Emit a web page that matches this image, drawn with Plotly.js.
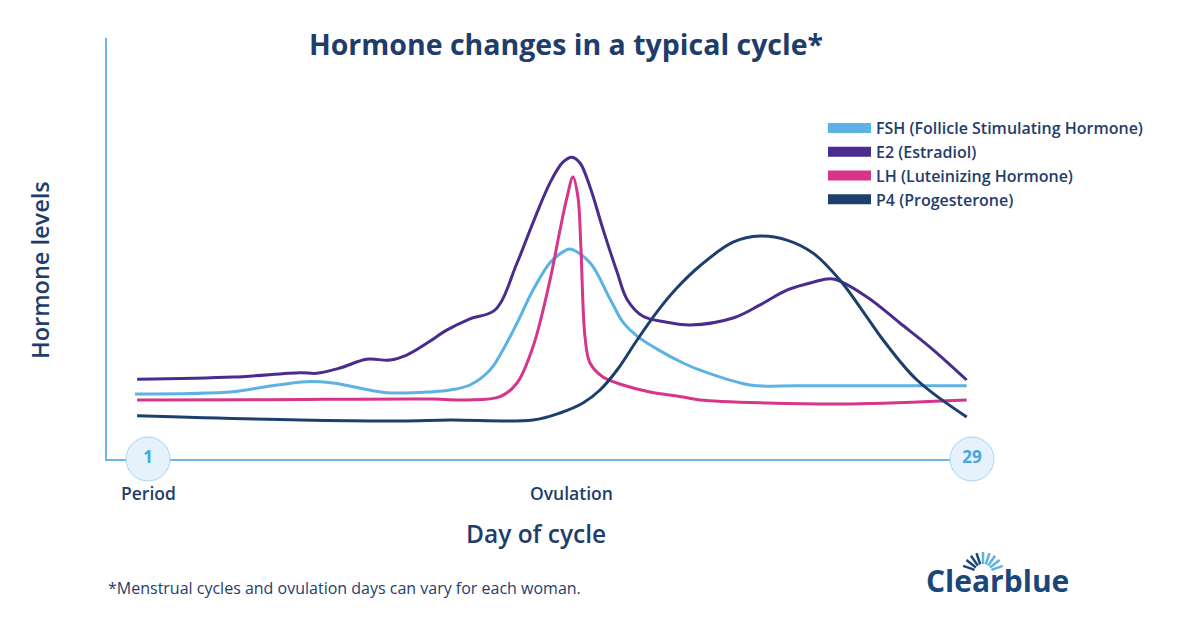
<!DOCTYPE html>
<html>
<head>
<meta charset="utf-8">
<script src="https://cdn.plot.ly/plotly-3.0.1.min.js"></script>
<style>html,body{margin:0;padding:0;background:#fff;}#chart{width:1200px;height:635px;}</style>
</head>
<body>
<div id="chart"></div>
<script>
// ---- data (day of cycle vs relative hormone level) ----
const seriesNames = ["FSH (Follicle Stimulating Hormone)", "E2 (Estradiol)", "LH (Luteinizing Hormone)", "P4 (Progesterone)"];

const fshDays = [0.56, 3.89, 5.0, 6.39, 7.29, 9.11, 10.68, 11.26, 11.94, 12.62, 13.06, 13.54, 14.08, 14.66, 15.1, 15.34, 16.02, 16.7, 17.14, 17.62, 18.3, 19.18, 19.76, 21.46, 23.16, 28.82];
const fshVals = [15.44, 15.99, 17.17, 18.36, 18.05, 15.75, 15.99, 16.39, 17.58, 21.14, 25.9, 32.3, 40.1, 46.6, 49.2, 49.9, 46.6, 38.0, 32.5, 29.2, 26.1, 22.8, 21.1, 17.58, 17.4, 17.41];

const e2Days = [0.63, 3.89, 6.17, 6.73, 7.52, 8.43, 9.22, 9.79, 10.47, 11.15, 11.94, 12.79, 13.54, 14.08, 14.66, 15.1, 15.41, 15.68, 16.02, 16.46, 16.94, 17.28, 17.82, 18.63, 19.42, 20.88, 21.8, 22.71, 23.6, 24.28, 25.43, 26.55, 27.67, 28.82];
const e2Vals = [18.93, 19.45, 20.5, 20.36, 21.6, 23.68, 23.52, 24.7, 27.48, 30.6, 33.3, 35.39, 46.56, 56.1, 65.6, 70.5, 71.7, 70.3, 64.6, 54.6, 44.4, 37.9, 33.9, 32.5, 31.83, 33.49, 36.6, 40.1, 42.0, 42.76, 38.5, 32.3, 26.0, 18.76];

const lhDays = [0.63, 5.0, 10.68, 11.83, 12.96, 13.54, 14.08, 14.66, 15.0, 15.24, 15.44, 15.61, 15.71, 15.85, 16.02, 16.46, 17.14, 18.06, 19.18, 19.76, 22.02, 24.86, 28.82];
const lhVals = [14.01, 14.1, 14.25, 14.01, 14.8, 18.05, 26.6, 42.5, 54.4, 62.2, 67.0, 62.2, 50.4, 29.0, 22.8, 19.48, 17.58, 15.91, 14.73, 14.01, 13.3, 13.06, 14.01];

const p4Days = [0.63, 6.17, 9.56, 11.26, 14.08, 15.0, 15.78, 16.36, 16.94, 17.62, 18.29, 18.97, 19.76, 20.88, 21.8, 22.71, 23.6, 24.51, 25.43, 25.98, 27.13, 28.82];
const p4Vals = [10.29, 9.26, 9.03, 9.26, 9.26, 10.93, 13.3, 16.39, 21.14, 28.27, 34.9, 40.6, 45.9, 51.5, 52.97, 52.0, 48.9, 42.5, 33.7, 28.27, 18.76, 9.98];

const dayMarkers = [1, 29];
const dayMarkerLabels = ["1", "29"];
const phaseDays = [1, 15.4];
const phaseLabels = ["Period", "Ovulation"];

// ---- styling ----
const colors = ["#5bb2e3", "#4a2b8e", "#d6358b", "#1c3f6d"];
const navy = "#1f3d6b";
const axisBlue = "#6db7e6";
const FONT = "Open Sans, sans-serif";

const PL = 107, PR = 972, PT = 38, PB = 459;
const px = p => (p - PL) / (PR - PL);
const py = p => (PB - p) / (PB - PT);

const dataSets = [[fshDays, fshVals], [e2Days, e2Vals], [lhDays, lhVals], [p4Days, p4Vals]];
const traces = [];
dataSets.forEach((d, i) => {
  traces.push({
    x: d[0], y: d[1], type: "scatter", mode: "lines",
    name: seriesNames[i], legendgroup: "g" + i, showlegend: false,
    line: {color: colors[i], width: 3, shape: "spline", smoothing: 1},
    hoverinfo: "x+y"
  });
});
// legend swatches (thick)
seriesNames.forEach((n, i) => {
  traces.push({
    x: [null], y: [null], type: "scatter", mode: "lines",
    name: n, legendgroup: "g" + i, showlegend: true,
    line: {color: colors[i], width: 10}
  });
});
// day circles
traces.push({
  x: dayMarkers, y: [0, 0], type: "scatter", mode: "markers+text",
  text: dayMarkerLabels, textposition: "middle center",
  textfont: {family: FONT, size: 17, color: "#4ba4dc", weight: 700},
  marker: {size: 44, color: "#e5f2fc", line: {color: "#a9d4f1", width: 1}},
  cliponaxis: false, showlegend: false, hoverinfo: "skip"
});

const annotations = [
  {text: "Hormone levels", xref: "paper", yref: "paper", x: px(40), y: py(270), xanchor: "center", yanchor: "middle",
   textangle: -90, showarrow: false, font: {family: FONT, size: 23.5, color: navy, weight: 600}},
  {text: "Day of cycle", xref: "paper", yref: "paper", x: px(536), y: py(533), xanchor: "center", yanchor: "middle",
   showarrow: false, font: {family: FONT, size: 24.5, color: navy, weight: 600}},
  {text: "*Menstrual cycles and ovulation days can vary for each woman.", xref: "paper", yref: "paper",
   x: px(106), y: py(588), xanchor: "left", yanchor: "middle", showarrow: false,
   font: {family: FONT, size: 16, color: navy, weight: 500}},
  {text: "Clearblue", xref: "paper", yref: "paper", x: px(997), y: py(580), xanchor: "center", yanchor: "middle",
   showarrow: false, font: {family: FONT, size: 30, color: "#1b4679", weight: 700}}
];
phaseDays.forEach((d, i) => {
  annotations.push({text: phaseLabels[i], xref: "x", yref: "paper", x: d, y: py(493), xanchor: "center", yanchor: "middle",
    showarrow: false, font: {family: FONT, size: 17.5, color: navy, weight: 600}});
});

// logo rays
const shapes = [];
const rayAngles = [160, 142, 125, 108, 90, 72, 55, 38, 20];
rayAngles.forEach((a, k) => {
  const r = a * Math.PI / 180;
  const cx = 983, cy = 573;
  const r0 = 9, r1 = 21;
  shapes.push({type: "line", xref: "paper", yref: "paper",
    x0: px(cx + r0 * Math.cos(r)), y0: py(cy - r0 * Math.sin(r)),
    x1: px(cx + r1 * Math.cos(r)), y1: py(cy - r1 * Math.sin(r)),
    line: {color: k < 4 ? "#1b4679" : "#5bb2e3", width: 2.5}});
});

const layout = {
  width: 1200, height: 635,
  margin: {l: PL, r: 1200 - PR, t: PT, b: 635 - PB, pad: 0},
  paper_bgcolor: "#ffffff", plot_bgcolor: "#ffffff",
  title: {text: "Hormone changes in a typical cycle*", x: 566 / 1200, xref: "container", xanchor: "center",
          y: 1 - 45 / 635, yref: "container", yanchor: "middle",
          font: {family: FONT, size: 28.5, color: navy, weight: 700}},
  xaxis: {range: [1 - 41 / (824 / 28), 29], showgrid: false, zeroline: false, showticklabels: false,
          ticks: "", showline: true, linecolor: axisBlue, linewidth: 2, layer: "below traces", fixedrange: true},
  yaxis: {range: [0, 100], showgrid: false, zeroline: false, showticklabels: false,
          ticks: "", showline: true, linecolor: axisBlue, linewidth: 2, layer: "below traces", fixedrange: true},
  showlegend: true,
  legend: {x: px(823), y: py(111), xanchor: "left", yanchor: "top", itemwidth: 43,
           font: {family: FONT, size: 16, color: navy, weight: 600}, tracegroupgap: 0,
           bgcolor: "rgba(0,0,0,0)"},
  annotations: annotations,
  shapes: shapes
};

Plotly.newPlot("chart", traces, layout, {displayModeBar: false, staticPlot: true});
</script>
</body>
</html>
